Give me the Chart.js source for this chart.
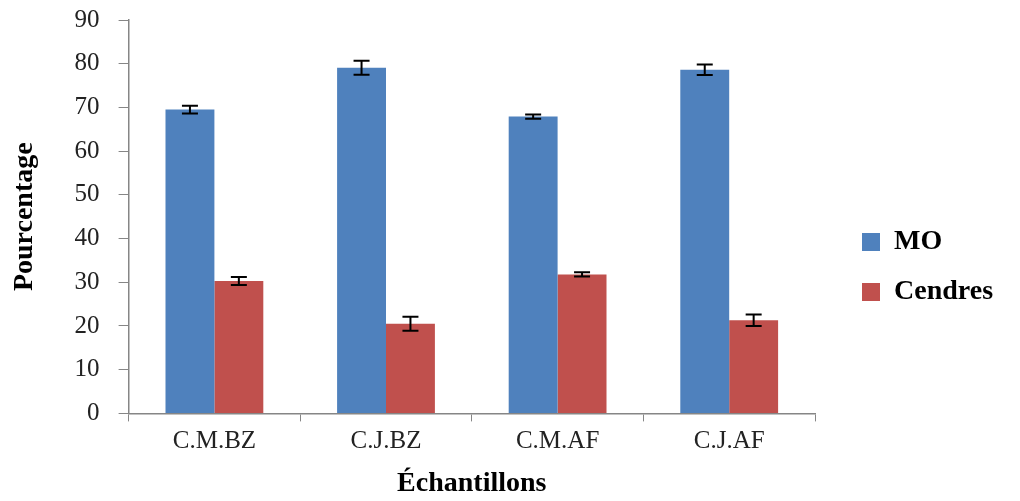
<!DOCTYPE html>
<html>
<head>
<meta charset="utf-8">
<script src="https://cdn.jsdelivr.net/npm/chart.js@4.4.1/dist/chart.umd.min.js"></script>
<style>
    html, body { margin: 0; padding: 0; background: #fff; }
    #wrap { width: 1020px; height: 501px; }
</style>
</head>
<body>
<div id="wrap"><canvas id="chart"></canvas></div>
<script>
const categories = ['C.M.BZ', 'C.J.BZ', 'C.M.AF', 'C.J.AF'];
const moValues = [69.5, 79.1, 67.9, 78.6];
const moErrors = [0.9, 1.6, 0.5, 1.2];
const cendresValues = [30.3, 20.5, 31.8, 21.3];
const cendresErrors = [0.9, 1.6, 0.5, 1.3];

const serif = "'Liberation Serif', 'Times New Roman', serif";

// ── Error bars drawn from each dataset's errors array ─────────────────────────
const errorBars = {
    id: 'errorBars',
    afterDatasetsDraw(chart) {
        const ctx = chart.ctx;
        const y = chart.scales.y;
        ctx.save();
        ctx.strokeStyle = '#000';
        ctx.lineWidth = 2;
        chart.data.datasets.forEach((ds, i) => {
            const meta = chart.getDatasetMeta(i);
            meta.data.forEach((bar, j) => {
                const v = ds.data[j];
                const e = ds.errors[j];
                const top = y.getPixelForValue(v + e);
                const bottom = y.getPixelForValue(v - e);
                const x = bar.x;
                ctx.beginPath();
                ctx.moveTo(x, top); ctx.lineTo(x, bottom);
                ctx.moveTo(x - 8, top); ctx.lineTo(x + 8, top);
                ctx.moveTo(x - 8, bottom); ctx.lineTo(x + 8, bottom);
                ctx.stroke();
            });
        });
        ctx.restore();
    }
};

// ── Legend: reserve a wider column on the right, then nudge it ────────────────
const legendSpace = {
    id: 'legendSpace',
    afterInit(chart) {
        const fit = chart.legend.fit;
        chart.legend.fit = function () {
            fit.call(this);
            this.width = 205;
        };
    },
    afterLayout(chart) {
        const lg = chart.legend;
        lg.left += 25; lg.right += 25;
        lg.top += 14; lg.bottom += 14;
    }
};

new Chart(document.getElementById('chart'), {
    type: 'bar',
    data: {
        labels: categories,
        datasets: [
            { label: 'MO', data: moValues, errors: moErrors, backgroundColor: '#4F81BD',
              categoryPercentage: 0.57, barPercentage: 1 },
            { label: 'Cendres', data: cendresValues, errors: cendresErrors, backgroundColor: '#C0504D',
              categoryPercentage: 0.57, barPercentage: 1 }
        ]
    },
    options: {
        responsive: true,
        maintainAspectRatio: false,
        animation: false,
        layout: { padding: { top: 5, right: 0, bottom: 0, left: 4 } },
        plugins: {
            tooltip: { enabled: false },
            legend: {
                position: 'right',
                labels: {
                    boxWidth: 18, boxHeight: 18, padding: 22,
                    color: '#000',
                    font: { family: serif, size: 28, weight: 'bold' }
                }
            }
        },
        scales: {
            x: {
                border: { color: '#868686', width: 1.5 },
                grid: { drawOnChartArea: false, tickLength: 8, color: '#868686' },
                ticks: { color: '#222', padding: 5, font: { family: serif, size: 25 } },
                title: { display: true, text: 'Échantillons', color: '#000', padding: { top: 6, bottom: 0 },
                         font: { family: serif, size: 28, weight: 'bold' } }
            },
            y: {
                min: 0, max: 90,
                border: { color: '#868686', width: 1.5 },
                grid: { drawOnChartArea: false, tickLength: 10, color: '#868686' },
                ticks: { stepSize: 10, color: '#222', padding: 19, font: { family: serif, size: 25 } },
                title: { display: true, text: 'Pourcentage', color: '#000', padding: { top: 4, bottom: 14 },
                         font: { family: serif, size: 28, weight: 'bold' } },
                // tick padding would otherwise also push the top of the axis down
                afterFit(scale) {
                    scale.paddingTop = 20;
                }
            }
        }
    },
    plugins: [errorBars, legendSpace]
});
</script>
</body>
</html>
